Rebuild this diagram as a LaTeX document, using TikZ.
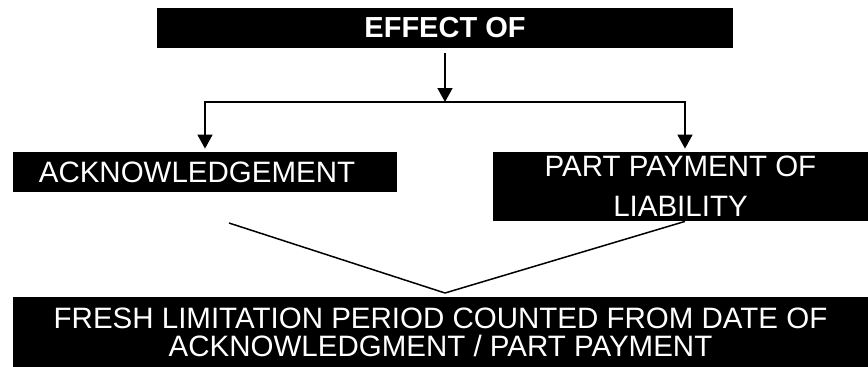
\documentclass[tikz,border=0pt]{standalone}
\usepackage{fontspec}
\setmainfont{Liberation Sans}
\usetikzlibrary{
    arrows.meta,
    positioning,
    calc
}

\begin{document}
\begin{tikzpicture}[
    x=0.5pt, y=-0.5pt,
    blackbox/.style={rectangle, fill=black, text=white, inner sep=0pt, align=center,
        font=\fontsize{14.75}{20}\selectfont},
    link/.style={line width=0.75pt},
    arr/.style={link, -{Triangle[length=7pt, width=7.5pt]}}
]
\useasboundingbox (0,0) rectangle (868,366);

% Boxes
\node[blackbox, minimum width=288pt, minimum height=20pt, font=\fontsize{14.5}{20}\selectfont\bfseries] (effect) at (445,28) {EFFECT OF};
\node[blackbox, minimum width=192pt, minimum height=20pt] (ack) at (205,172) {ACKNOWLEDGEMENT\hspace*{8pt}};
\node[blackbox, minimum width=187.5pt, minimum height=34.5pt] (part) at (680.5,186.5) {PART PAYMENT OF\\LIABILITY};
\node[blackbox, minimum width=427.5pt, minimum height=35pt, font=\fontsize{14.75}{14}\selectfont] (fresh) at (440.5,332) {FRESH LIMITATION PERIOD COUNTED FROM DATE OF\\ACKNOWLEDGMENT / PART PAYMENT};

% Branching arrows
\coordinate (split) at (445,102);
\draw[arr] ([yshift=-2.5pt]effect.south) -- (split);
\draw[arr] (split) -| ([yshift=1.5pt]ack.north);
\draw[arr] (split) -| ([xshift=2.25pt, yshift=1.5pt]part.north);

% Joining lines
\coordinate (meet) at (445,293);
\coordinate (ackend) at (229,223);
\draw[link] (ackend) -- (meet);
\draw[link] ([xshift=2.25pt]part.south) -- (meet);
\end{tikzpicture}
\end{document}
